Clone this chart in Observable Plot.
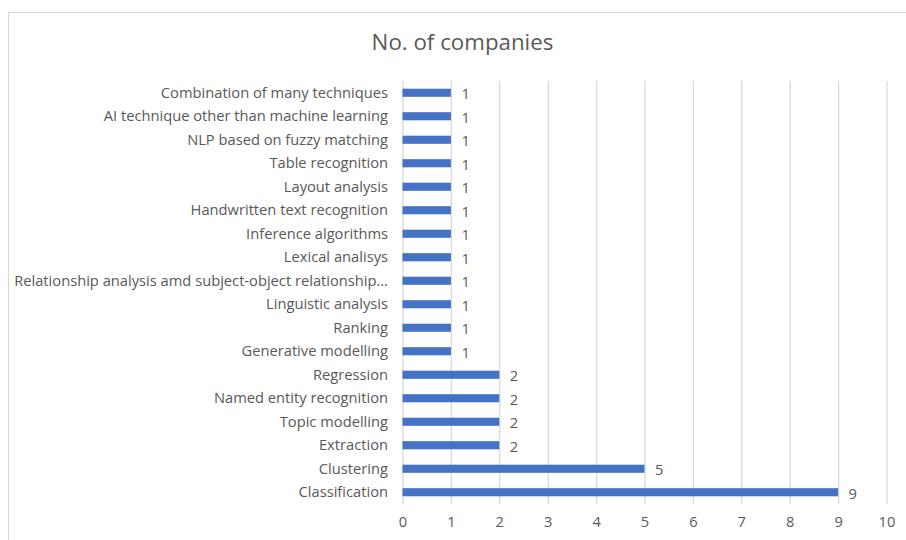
<!DOCTYPE html>
<html>
<head>
<meta charset="utf-8">
<script src="https://cdn.jsdelivr.net/npm/d3@7"></script>
<script src="https://cdn.jsdelivr.net/npm/@observablehq/plot@0.6"></script>
<style>
  html, body { margin: 0; padding: 0; background: #fff; }
  #wrap { position: relative; width: 906px; height: 540px; overflow: hidden; font-family: "Open Sans", sans-serif; }
  #frame { position: absolute; left: 8px; top: 12px; width: 920px; height: 560px; border: 1px solid #d9d9d9; box-sizing: border-box; }
  #title { position: relative; height: 60px; text-align: center; padding-left: 19px; box-sizing: border-box;
           font-size: 22.3px; color: #595959; line-height: 1; padding-top: 31px; }
  #chart { position: relative; }
</style>
</head>
<body>
<div id="wrap">
  <div id="frame"></div>
  <div id="title">No. of companies</div>
  <div id="chart"></div>
</div>
<script>
const categories = [
  "Combination of many techniques",
  "AI technique other than machine learning",
  "NLP based on fuzzy matching",
  "Table recognition",
  "Layout analysis",
  "Handwritten text recognition",
  "Inference algorithms",
  "Lexical analisys",
  "Relationship analysis amd subject-object relationship…",
  "Linguistic analysis",
  "Ranking",
  "Generative modelling",
  "Regression",
  "Named entity recognition",
  "Topic modelling",
  "Extraction",
  "Clustering",
  "Classification"
];
const values = [1, 1, 1, 1, 1, 1, 1, 1, 1, 1, 1, 1, 2, 2, 2, 2, 5, 9];
const xTicks = [0, 1, 2, 3, 4, 5, 6, 7, 8, 9, 10];

const data = categories.map((c, i) => ({category: c, value: values[i]}));

const chart = Plot.plot({
  width: 906,
  height: 480,
  marginLeft: 402.5,
  marginRight: 19.5,
  marginTop: 21,
  marginBottom: 36,
  style: {fontFamily: "Open Sans, sans-serif", fontSize: "14.7px", color: "#595959", background: "transparent"},
  x: {domain: [0, 10]},
  y: {domain: categories, padding: 0, round: false},
  marks: [
    Plot.gridX(xTicks, {stroke: "#d9d9d9", strokeOpacity: 1, strokeWidth: 1.3}),
    Plot.barX(data, {x: "value", y: "category", fill: "#4472c4", insetTop: 7.7, insetBottom: 7.7}),
    Plot.text(data, {x: "value", y: "category", text: d => String(d.value), dx: 10, dy: 1.5, textAnchor: "start", fill: "#595959", fontSize: 14.7}),
    Plot.axisX({ticks: xTicks, tickSize: 0, tickPadding: 12.5, label: null, fontSize: 14.7}),
    Plot.axisY({tickSize: 0, tickPadding: 15, label: null, fontSize: 14.7, textOverflow: null})
  ]
});
document.getElementById("chart").appendChild(chart);
</script>
</body>
</html>
